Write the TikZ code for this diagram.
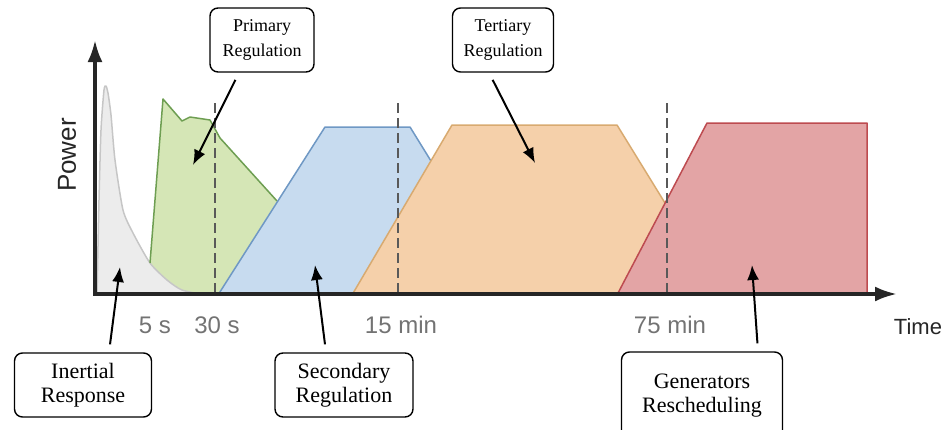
\documentclass[tikz,border=0pt]{standalone}
\definecolor{inertfill}{HTML}{ECECEC}
\definecolor{inertline}{HTML}{C6C6C6}
\definecolor{primfill}{HTML}{D5E6B6}
\definecolor{primline}{HTML}{6E9E52}
\definecolor{secfill}{HTML}{C7DBEF}
\definecolor{secline}{HTML}{6F98C4}
\definecolor{tertfill}{HTML}{F5D0AA}
\definecolor{tertline}{HTML}{D8AA70}
\definecolor{genfill}{HTML}{E3A4A5}
\definecolor{genline}{HTML}{BD4B50}
\usepackage{fontspec}
\setmainfont{Liberation Serif}
\setsansfont{Liberation Sans}
\usepackage{tikz}
\usetikzlibrary{arrows.meta,calc}
\usepackage{xcolor}

\begin{document}
\begin{tikzpicture}[x=1pt, y=-1pt,
            box/.style={rectangle, rounded corners=8pt, draw=black, line width=1.4pt,
                        fill=white, align=center, minimum height=64pt, inner sep=2pt},
            topbox/.style={box, font={\fontsize{18}{25}\selectfont}},
            lowbox/.style={box, font={\fontsize{22}{24}\selectfont}},
            arrow/.style={-{Latex[length=15pt,width=12pt]}, line width=2pt, black, shorten <=8pt},
            axis/.style={{Latex[length=22pt,width=15pt]}-{Latex[length=22pt,width=15pt]},
                         line width=3.5pt, black!85},
            area/.style={line width=1.5pt, line join=round},
            marker/.style={dash pattern=on 10pt off 5pt, line width=2pt, black!65},
            tick/.style={font={\sffamily\fontsize{24}{24}\selectfont}, text=black!55, anchor=base}
        ]
            \useasboundingbox (0,0) rectangle (951,429);

            % regulation areas
            \fill[inertfill] plot[smooth, tension=0.4] coordinates {(97,295) (99,200) (101,130) (104,90)
                (106,86) (108,93) (111,115) (115,160) (123,210) (133,233) (150,263) (167,280)
                (182,290) (205,295)} -- cycle;
            \fill[primfill] (150,263) -- (163,99) -- (182,121) -- (190,117) -- (210,120) -- (220,138)
                -- (277,201) -- (218,295) -- (205,295) -- (182,290) -- (167,280) -- cycle;
            \draw[area, inertline] plot[smooth, tension=0.4] coordinates {(97,295) (99,200) (101,130)
                (104,90) (106,86) (108,93) (111,115) (115,160) (123,210) (133,233) (150,263)
                (167,280) (182,290) (205,295)};
            \draw[area, primline] (150,263) -- (163,99) -- (182,121) -- (190,117) -- (210,120)
                -- (220,138) -- (277,201);
            \fill[secfill] (218,295) -- (325,127) -- (410,127) -- (431,161) -- (352,295) -- cycle;
            \draw[area, secline] (218,295) -- (325,127) -- (410,127) -- (431,161);
            \fill[tertfill] (352,295) -- (452,125) -- (617,125) -- (665,203) -- (617,295) -- cycle;
            \draw[area, tertline] (352,295) -- (452,125) -- (617,125) -- (665,203);
            \filldraw[area, fill=genfill, draw=genline] (617,295) -- (707,123) -- (867,123) -- (867,295);

            % time marks
            \draw[marker] (215,103) -- (215,294);
            \draw[marker] (398,103) -- (398,294);
            \draw[marker] (667,103) -- (667,294);

            % axes
            \coordinate (ytop) at (95,40);
            \coordinate (origin) at (95,294);
            \coordinate (xend) at (897,294);
            \draw[axis] (ytop) -- (origin) -- (xend);

            \node[tick] (t5s) at (155,333) {5 s};
            \node[tick] (t30s) at (217,333) {30 s};
            \node[tick] (t15min) at (401,333) {15 min};
            \node[tick] (t75min) at (670,333) {75 min};
            \node[font={\sffamily\fontsize{22}{22}\selectfont}, text=black!85, anchor=base] (timelabel) at (918,334) {Time};
            \node[font={\sffamily\fontsize{26}{26}\selectfont}, text=black!85, rotate=90] (powerlabel) at (67,155) {Power};

            % labels
            \node[topbox, minimum width=104pt] (primary) at (262,40) {Primary\\Regulation};
            \node[topbox, minimum width=101pt] (tertiary) at (503,40) {Tertiary\\Regulation};
            \node[lowbox, minimum width=137pt] (inertial) at (83,385) {Inertial\\Response};
            \node[lowbox, minimum width=138pt] (secondary) at (344,385) {Secondary\\Regulation};
            \node[lowbox, minimum width=161pt, minimum height=88pt] (generators) at (702,396) {Generators\\Rescheduling};

            \coordinate (primaryTip) at (193,165);
            \coordinate (tertiaryTip) at (535,163);
            \coordinate (inertialTip) at (120,267);
            \coordinate (secondaryTip) at (315,265);
            \coordinate (generatorsTip) at (752,265);

            \draw[arrow] ([xshift=-23pt]primary.south) -- (primaryTip);
            \draw[arrow] ([xshift=-14pt]tertiary.south) -- (tertiaryTip);
            \draw[arrow] ([xshift=26pt]inertial.north) -- (inertialTip);
            \draw[arrow] ([xshift=-18pt]secondary.north) -- (secondaryTip);
            \draw[arrow] ([xshift=56pt]generators.north) -- (generatorsTip);
        \end{tikzpicture}
\end{document}
